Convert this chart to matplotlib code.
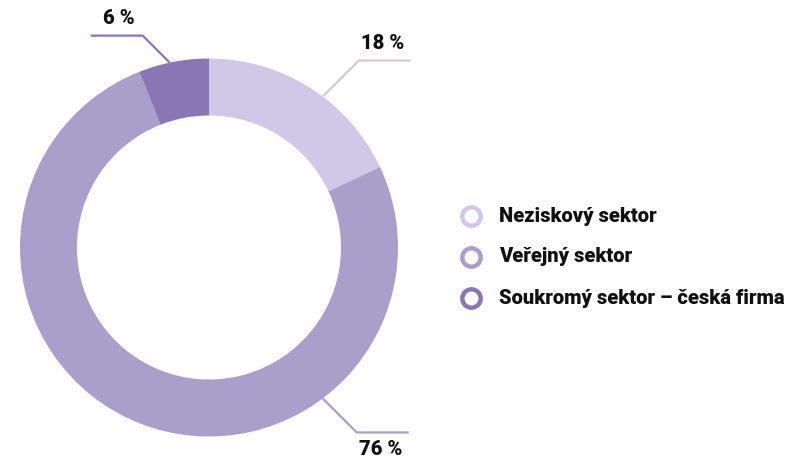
import numpy as np
import matplotlib.pyplot as plt

labels = ['Neziskový sektor', 'Veřejný sektor', 'Soukromý sektor – česká firma']
values = [18, 76, 6]
colors = ['#d0c8e6', '#aa9ecb', '#8a75b5']

W, H = 790, 459
cx, cy = 209, H - 247.5
r_out, ring = 189, 57

# leader lines: angle where it leaves the ring (deg), direction, diagonal length
anchor_deg = [53, -53, 102]
side = [1, 1, -1]
diag = [36, 34, 27]

plt.rcParams['font.family'] = ['Roboto', 'DejaVu Sans']

fig = plt.figure(figsize=(W / 100, H / 100), dpi=100)
ax = fig.add_axes([0, 0, 1, 1])

ax.pie(values, colors=colors, startangle=90, counterclock=False,
       center=(cx, cy), radius=r_out, frame=True,
       wedgeprops=dict(width=ring, edgecolor='none'))
ax.set_xlim(0, W)
ax.set_ylim(0, H)
ax.set_aspect('equal')
ax.axis('off')

for v, c, a, s, d in zip(values, colors, anchor_deg, side, diag):
    t = np.deg2rad(a)
    x0 = cx + r_out * np.cos(t)
    y0 = cy + r_out * np.sin(t)
    up = 1 if np.sin(t) > 0 else -1
    x1 = x0 + s * d
    y1 = y0 + up * d
    x2 = x1 + s * 52
    ax.plot([x0, x1, x2], [y0, y1, y1], color=c, lw=1.6, solid_capstyle='butt')
    tx = (x1 + x2) / 2 - s * 2.5
    ty = y1 + up * 17
    ax.text(tx, ty, f'{v} %', ha='center', va='center', fontsize=14.5,
            fontweight='black', color='#111111')

leg_y = [H - 216, H - 257, H - 298]
for lab, c, y in zip(labels, colors, leg_y):
    ax.scatter([471], [y], s=175, facecolor='white', edgecolor=c, linewidths=3.2, zorder=3)
    ax.text(499, y, lab, ha='left', va='center', fontsize=14.5,
            fontweight='black', color='#111111')

fig.savefig('out.png', dpi=100)
